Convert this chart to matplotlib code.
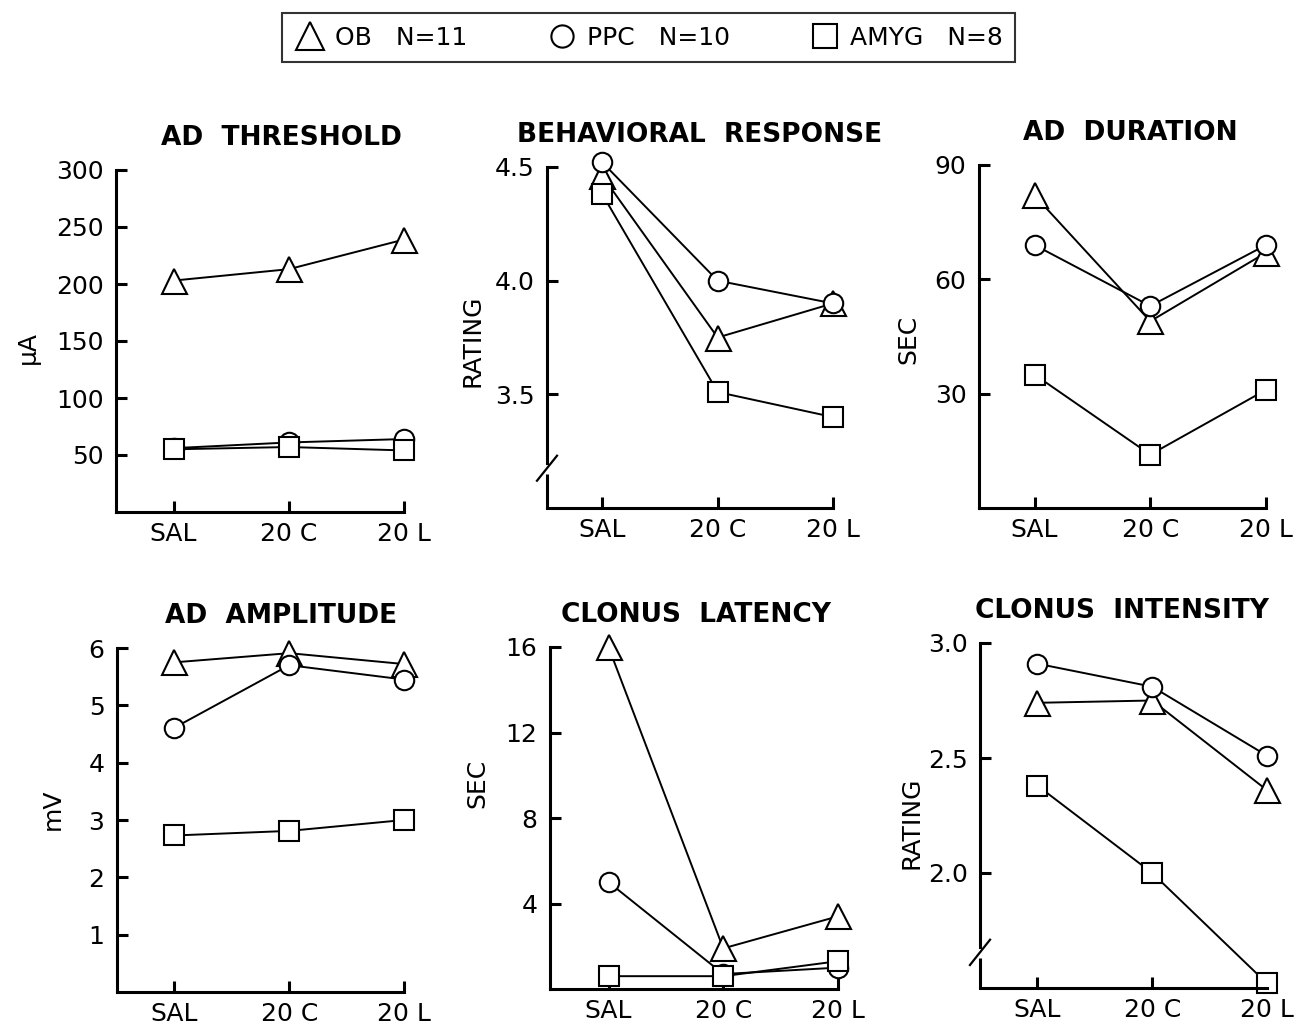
import matplotlib
matplotlib.use('Agg')
from matplotlib import pyplot as plt
from matplotlib.lines import Line2D

# DATA #
groups = ['SAL', '20 C', '20 L']
series_names = ['OB   N=11', 'PPC   N=10', 'AMYG   N=8']

thresh_ob = [203, 213, 239]
thresh_ppc = [56, 61, 64]
thresh_amyg = [55, 57, 54]

behav_ob = [4.46, 3.75, 3.90]
behav_ppc = [4.52, 4.00, 3.90]
behav_amyg = [4.38, 3.51, 3.40]

dur_ob = [82, 49, 67]
dur_ppc = [69, 53, 69]
dur_amyg = [35, 14, 31]

amp_ob = [5.75, 5.91, 5.72]
amp_ppc = [4.61, 5.70, 5.45]
amp_amyg = [2.73, 2.81, 3.00]

lat_ob = [16.0, 1.9, 3.4]
lat_ppc = [5.0, 0.7, 1.0]
lat_amyg = [0.6, 0.6, 1.3]

inten_ob = [2.74, 2.75, 2.36]
inten_ppc = [2.91, 2.81, 2.51]
inten_amyg = [2.38, 2.00, 1.52]

titles = ['AD  THRESHOLD', 'BEHAVIORAL  RESPONSE', 'AD  DURATION',
          'AD  AMPLITUDE', 'CLONUS  LATENCY', 'CLONUS  INTENSITY']
ylabels = ['μA', 'RATING', 'SEC', 'mV', 'SEC', 'RATING']
yticks = [[50, 100, 150, 200, 250, 300], [3.5, 4.0, 4.5], [30, 60, 90],
          [1, 2, 3, 4, 5, 6], [4, 8, 12, 16], [2.0, 2.5, 3.0]]
ytick_labels = [['50', '100', '150', '200', '250', '300'], ['3.5', '4.0', '4.5'], ['30', '60', '90'],
                ['1', '2', '3', '4', '5', '6'], ['4', '8', '12', '16'], ['2.0', '2.5', '3.0']]
ylims = [(0, 300), (3.0, 4.5), (0, 90), (0, 6), (0, 16), (1.5, 3.0)]
breaks = [None, (3.15, 3.20), None, None, None, (1.63, 1.68)]
panel_data = [(thresh_ob, thresh_ppc, thresh_amyg), (behav_ob, behav_ppc, behav_amyg),
              (dur_ob, dur_ppc, dur_amyg), (amp_ob, amp_ppc, amp_amyg),
              (lat_ob, lat_ppc, lat_amyg), (inten_ob, inten_ppc, inten_amyg)]

# LAYOUT (pixels of a 1300x1025 figure: left, right, top, bottom) #
W, H = 1300, 1025
boxes = [(116, 404, 170, 512), (547, 833, 167, 508), (979, 1266, 165, 508),
         (117, 404, 648, 992), (550, 838, 647, 989), (980, 1267, 643, 988)]
title_x = [0.573, 0.535, 0.526, 0.571, 0.507, 0.495]
label_pos = [(-0.306, 0.48), (-0.259, 0.49), (-0.247, 0.49),
             (-0.223, 0.53), (-0.253, 0.60), (-0.237, 0.48)]
left_lim = [-0.5, -0.48, -0.48, -0.5, -0.51, -0.5]

markers = ['^', 'o', 's']
marker_sizes = [18, 14, 15]

plt.rcParams['font.family'] = ['DejaVu Sans']


def main():
    fig = plt.figure(figsize=(13, 10.25), dpi=100)

    for k in range(6):
        x0, x1, top, bottom = boxes[k]
        ax = fig.add_axes([x0 / W, 1 - bottom / H, (x1 - x0) / W, (bottom - top) / H])
        positions = range(len(groups))

        for values, marker, size in zip(panel_data[k], markers, marker_sizes):
            ax.plot(positions, values, color='k', linewidth=1.4, marker=marker, markersize=size,
                    markerfacecolor='white', markeredgecolor='k', markeredgewidth=1.5, clip_on=False)

        ax.set_xlim(left_lim[k], 2)
        ax.set_ylim(*ylims[k])
        ax.set_xticks(list(positions))
        ax.set_xticklabels(groups)
        ax.set_yticks(yticks[k])
        ax.set_yticklabels(ytick_labels[k])

        for side in ['top', 'right']:
            ax.spines[side].set_visible(False)
        for side in ['left', 'bottom']:
            ax.spines[side].set_linewidth(2.2)

        ax.tick_params(direction='in', length=8, width=2.2, labelsize=18)
        ax.tick_params(axis='y', pad=9)
        ax.tick_params(axis='x', pad=7)

        ax.set_title(titles[k], x=title_x[k], pad=18, fontsize=19, fontweight='bold')
        ax.set_ylabel(ylabels[k], fontsize=18, va='center')
        ax.yaxis.set_label_coords(*label_pos[k])

        # broken y axis #
        if breaks[k] is not None:
            lo, hi = breaks[k]
            ax.spines['left'].set_bounds(hi, ylims[k][1])
            trans = ax.get_yaxis_transform()
            ax.plot([0, 0], [ylims[k][0], lo], transform=trans, color='k', linewidth=2.2,
                    clip_on=False, solid_capstyle='butt')
            ax.plot([-0.035, 0.035], [lo - 0.03, hi + 0.03], transform=trans, color='k',
                    linewidth=1.6, clip_on=False)

    handles = [Line2D([], [], linestyle='None', marker=m, markersize=s + 2, markerfacecolor='white',
                      markeredgecolor='k', markeredgewidth=1.5) for m, s in zip(markers, marker_sizes)]
    legend = fig.legend(handles, series_names, loc='center', bbox_to_anchor=(0.499, 0.963), ncol=3,
                        fontsize=18, frameon=True, fancybox=False, edgecolor='k',
                        handletextpad=0.4, columnspacing=3.2, borderpad=0.5, handlelength=1.2)
    legend.get_frame().set_linewidth(1.5)

    fig.savefig('out.png', dpi=100, facecolor='white')


if __name__ == '__main__':
    main()
